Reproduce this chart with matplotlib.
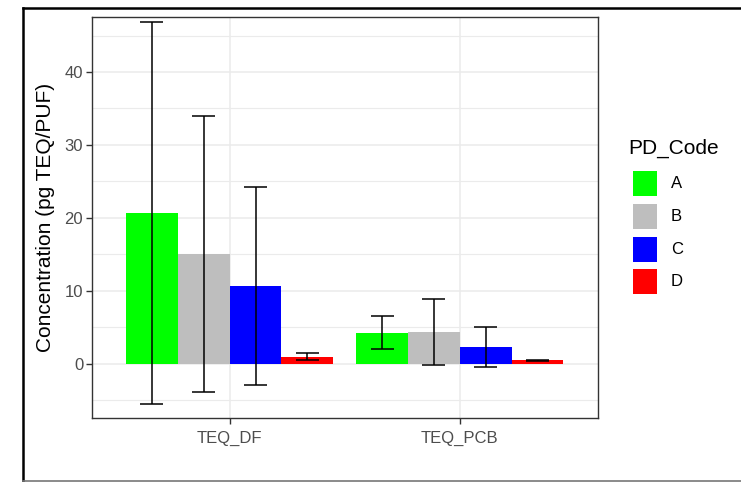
import matplotlib
matplotlib.use("Agg")
import matplotlib.pyplot as plt
from matplotlib.patches import Rectangle
from matplotlib.lines import Line2D
import numpy as np

plt.rcParams['font.family'] = ['Liberation Sans', 'DejaVu Sans']

categories = ["TEQ_DF", "TEQ_PCB"]
groups = ["A", "B", "C", "D"]
colors = ["#00FF00", "#BEBEBE", "#0000FF", "#FF0000"]

mean_A = [20.6, 4.23]
mean_B = [15.0, 4.3]
mean_C = [10.6, 2.27]
mean_D = [0.9, 0.42]

sd_A = [26.2, 2.27]
sd_B = [18.95, 4.53]
sd_C = [13.6, 2.68]
sd_D = [0.48, 0.03]

means = [mean_A, mean_B, mean_C, mean_D]
sds = [sd_A, sd_B, sd_C, sd_D]

W, H = 741, 482
fig = plt.figure(figsize=(W / 100, H / 100), dpi=100)
ax = fig.add_axes([91.5 / W, 1 - 418 / H, (598 - 91.5) / W, (418 - 17.3) / H])

x = np.arange(1, len(categories) + 1)
bw = 0.225
cap = 0.05
for i, (g, c, m, s) in enumerate(zip(groups, colors, means, sds)):
    m = np.array(m)
    s = np.array(s)
    xp = x + (i - 1.5) * bw
    ax.bar(xp, m, width=bw, color=c, linewidth=0, zorder=2)
    ax.vlines(xp, m - s, m + s, color="black", lw=1.1, zorder=3)
    ax.hlines(m - s, xp - cap, xp + cap, color="black", lw=1.1, zorder=3)
    ax.hlines(m + s, xp - cap, xp + cap, color="black", lw=1.1, zorder=3)

ax.set_xlim(0.4, 2.6)
ax.set_ylim(-7.47, 47.5)
ax.set_xticks(x)
ax.set_xticklabels(categories)
ax.set_yticks([0, 10, 20, 30, 40])
ax.set_yticks([-5, 5, 15, 25, 35, 45], minor=True)
ax.grid(which="major", color="#EBEBEB", lw=1.1, zorder=0)
ax.grid(which="minor", axis="y", color="#EBEBEB", lw=0.8, zorder=0)
ax.set_axisbelow(True)
for sp in ax.spines.values():
    sp.set_color("#333333")
    sp.set_linewidth(1.0)
ax.tick_params(which="major", length=4, width=1.0, color="#333333",
               labelsize=12, labelcolor="#4D4D4D", pad=2)
ax.tick_params(axis="x", which="major", pad=5)
ax.tick_params(which="minor", length=0)
ax.set_ylabel("Concentration (pg TEQ/PUF)", fontsize=15, labelpad=7)

# legend
fig.text(628 / W, 1 - 148 / H, "PD_Code", fontsize=15, va="center", ha="left")
for i, (g, c) in enumerate(zip(groups, colors)):
    top = 171 + i * 32.8
    fig.add_artist(Rectangle((633 / W, 1 - (top + 25) / H), 24 / W, 25 / H,
                             transform=fig.transFigure, facecolor=c, edgecolor="none"))
    fig.text(671 / W, 1 - (top + 12.5) / H, g, fontsize=12, va="center", ha="left")

# outer frame
fig.add_artist(Line2D([23 / W, 1], [1 - 8 / H, 1 - 8 / H], transform=fig.transFigure, color="black", lw=1.8))
fig.add_artist(Line2D([23 / W, 23 / W], [1 - 8 / H, 1 - 481 / H], transform=fig.transFigure, color="black", lw=1.8))
fig.add_artist(Line2D([23 / W, 1], [1 - 481 / H, 1 - 481 / H], transform=fig.transFigure, color="#777777", lw=1.2))

fig.savefig("out.png", dpi=100)
